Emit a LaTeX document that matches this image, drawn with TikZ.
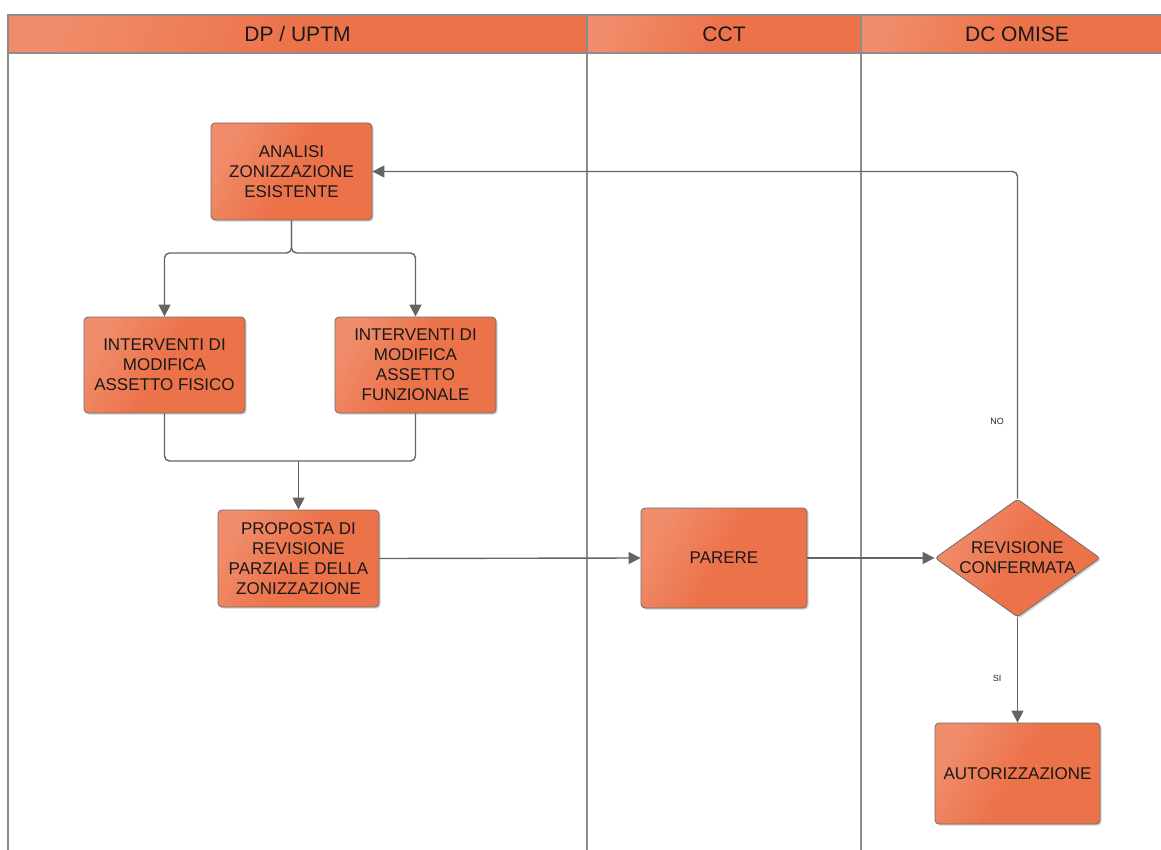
\documentclass[tikz,border=0pt]{standalone}
\usepackage{fontspec}
\setmainfont{Liberation Sans}
\usetikzlibrary{shapes.geometric,arrows.meta,shadows}
\definecolor{orL}{RGB}{240,140,106}
\definecolor{orD}{RGB}{236,114,74}
\definecolor{lanegray}{RGB}{140,140,140}
\definecolor{conngray}{RGB}{100,100,100}
\definecolor{boxedge}{RGB}{110,110,110}
\tikzset{
  lane/.style={draw=lanegray, line width=1.1pt},
  hdr/.style={lane, left color=orL, right color=orD, middle color=orD, shading angle=75},
  hdrtext/.style={font=\fontsize{21}{25}\selectfont, text=black!90},
  proc/.style={draw=boxedge, line width=0.8pt, rounded corners=4pt,
    left color=orL, right color=orD, middle color=orD, shading angle=60,
    drop shadow={shadow xshift=1.6pt, shadow yshift=-1.6pt, opacity=0.3, fill=black!60},
    align=center, font=\fontsize{17}{20}\selectfont, text=black!90, inner sep=2pt},
  decision/.style={diamond, aspect=1.4, draw=boxedge, line width=0.8pt, rounded corners=3pt,
    minimum width=165pt, minimum height=118pt,
    left color=orL, right color=orD, middle color=orD, shading angle=60,
    drop shadow={shadow xshift=1.6pt, shadow yshift=-1.6pt, opacity=0.3, fill=black!60},
    align=center, font=\fontsize{17}{20}\selectfont, text=black!90, inner sep=0pt},
  conn/.style={draw=conngray, line width=1.4pt, rounded corners=5pt},
  arr/.style={conn, -{Triangle[length=12pt,width=12pt]}},
  small/.style={font=\fontsize{9}{10}\selectfont, text=black!85}
}
\begin{document}
\begin{tikzpicture}[x=1pt,y=-1pt]
\useasboundingbox (0,0) rectangle (1161,850);
% lanes
\shade[hdr] (8,15) rectangle (587,53);
\shade[hdr] (587,15) rectangle (861,53);
\shade[hdr] (861,15) rectangle (1165,53);
\draw[lane] (8,15) rectangle (587,53);
\draw[lane] (587,15) rectangle (861,53);
\draw[lane] (861,15) -- (1165,15);
\draw[lane] (861,53) -- (1165,53);
\draw[lane] (8,15) -- (8,852);
\draw[lane] (587,15) -- (587,852);
\draw[lane] (861,15) -- (861,852);
\node[hdrtext] (h1) at (297.5,34) {DP / UPTM};
\node[hdrtext] (h2) at (724,34) {CCT};
\node[hdrtext] (h3) at (1017,34) {DC OMISE};
% nodes
\node[proc, minimum width=161pt, minimum height=97pt] (an) at (291.5,171.5) {ANALISI\\ZONIZZAZIONE\\ESISTENTE};
\node[proc, minimum width=161pt, minimum height=96pt] (fis) at (164.5,365) {INTERVENTI DI\\MODIFICA\\ASSETTO FISICO};
\node[proc, minimum width=161pt, minimum height=96pt] (fun) at (415.5,365) {INTERVENTI DI\\MODIFICA\\ASSETTO\\FUNZIONALE};
\node[proc, minimum width=161pt, minimum height=97pt] (prop) at (298.5,558.5) {PROPOSTA DI\\REVISIONE\\PARZIALE DELLA\\ZONIZZAZIONE};
\node[proc, minimum width=166pt, minimum height=100pt] (par) at (724,558) {PARERE};
\node[decision] (dec) at (1017.5,558) {REVISIONE\\CONFERMATA};
\node[proc, minimum width=165pt, minimum height=101pt] (aut) at (1017.5,773.5) {AUTORIZZAZIONE};
% connectors
\coordinate (split) at (291.5,253);
\coordinate (merge) at (298.5,461);
\draw[arr] (an.south) -- (split) -| (fis.north);
\draw[arr] (an.south) -- (split) -| (fun.north);
\draw[conn] (fis.south) |- (merge);
\draw[conn] (fun.south) |- (merge);
\draw[arr] (merge) -- (prop.north);
\draw[arr] (prop.east) -- (par.west);
\draw[arr] (par.east) -- (dec.west);
\draw[arr] (dec.north) |- (an.east);
\draw[arr] (dec.south) -- (aut.north);
\node[small] (no) at (997,421) {NO};
\node[small] (si) at (997,678) {SI};
\end{tikzpicture}
\end{document}
